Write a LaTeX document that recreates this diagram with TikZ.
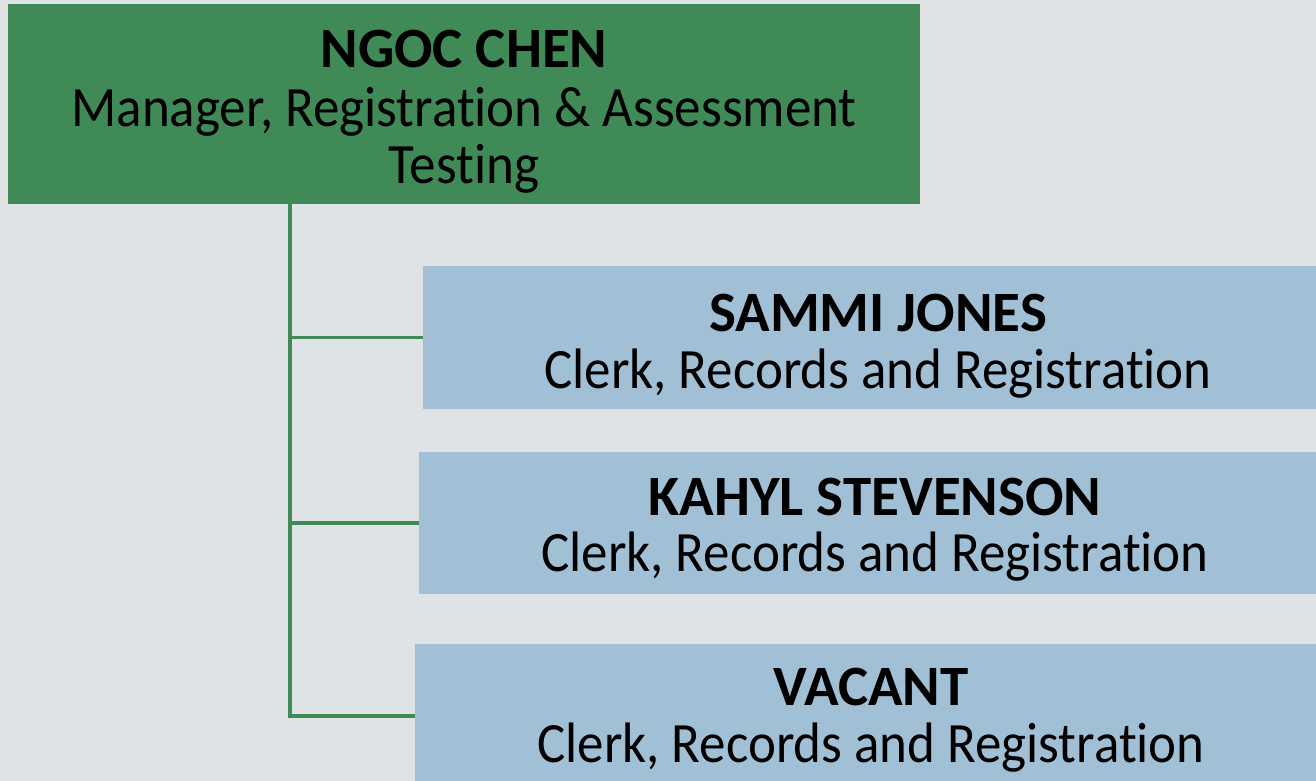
\documentclass[tikz,border=0pt]{standalone}
\usepackage{fontspec}
\setmainfont{Carlito}[Ligatures=CommonOff, FakeStretch=0.93, BoldFeatures={FakeStretch=1.0}]
\definecolor{bgc}{HTML}{DFE3E6}
\definecolor{mgreen}{HTML}{3F8A56}
\definecolor{sblue}{HTML}{A1C0D6}
\tikzset{
  gbox/.style={fill=mgreen, draw=none, inner sep=0pt, anchor=north west},
  bbox/.style={fill=sblue, draw=none, inner sep=0pt, anchor=north west},
  nametxt/.style={anchor=base, inner sep=0pt, font=\fontsize{57}{64}\selectfont\bfseries},
  roletxt/.style={anchor=base, inner sep=0pt, font=\fontsize{57}{64}\selectfont},
  conn/.style={draw=mgreen, line width=3.5pt}
}
\begin{document}
\begin{tikzpicture}[x=1pt, y=-1pt]
\fill[bgc] (0,0) rectangle (1316,781);
\useasboundingbox (0,0) rectangle (1316,781);
\node[gbox, minimum width=912pt, minimum height=200pt] (g) at (8,4) {};
\node[bbox, minimum width=893pt, minimum height=143pt] (b1) at (423,266) {};
\node[bbox, minimum width=897pt, minimum height=142pt] (b2) at (419,452) {};
\node[bbox, minimum width=901pt, minimum height=137pt] (b3) at (415,644) {};
\node[nametxt] (g1) at (464,68) {NGOC CHEN};
\node[roletxt] (g2) at (464,126) {Manager, Registration \& Assessment};
\node[roletxt] (g3) at (464,183) {Testing};
\node[nametxt] (n1) at (878,331) {SAMMI JONES};
\node[roletxt] (r1) at (878,388) {Clerk, Records and Registration};
\node[nametxt] (n2) at (875,515) {KAHYL STEVENSON};
\node[roletxt] (r2) at (875,571) {Clerk, Records and Registration};
\node[nametxt] (n3) at (871,705) {VACANT};
\node[roletxt] (r3) at (871,762) {Clerk, Records and Registration};
\coordinate (tb) at (290,716);
\draw[conn] (g.south -| tb) -- (tb) -- (tb -| b3.west);
\draw[conn] (b1.west -| tb) -- (b1.west);
\draw[conn] (b2.west -| tb) -- (b2.west);
\end{tikzpicture}
\end{document}
